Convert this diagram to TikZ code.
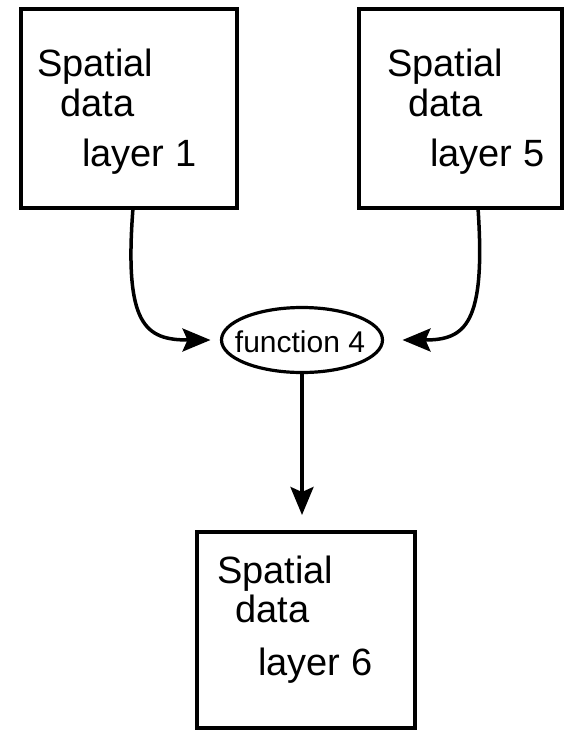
\documentclass[tikz,border=0pt]{standalone}
\usepackage{fontspec}
\setmainfont{Liberation Sans}
\usetikzlibrary{arrows.meta,shapes.geometric}
\begin{document}
\begin{tikzpicture}[x=1pt,y=1pt,
  box/.style={draw, line width=4pt, rectangle, inner sep=0pt, outer sep=0pt},
  lbl/.style={anchor=base west, inner sep=0pt, font=\fontsize{38}{40}\selectfont},
  conn/.style={line width=3.5pt, -{Stealth[length=28pt,width=23pt,inset=5pt]}}
]
\useasboundingbox (0,0) rectangle (565,-731);
\node[box, minimum width=216, minimum height=199] (b1) at (129,-108.5) {};
\node[box, minimum width=203, minimum height=199] (b2) at (460.5,-108.5) {};
\node[box, minimum width=218, minimum height=196] (b3) at (306,-630) {};
\node[draw, ellipse, line width=3.2pt, inner sep=0pt, outer sep=0pt, minimum width=161, minimum height=65] (f) at (302,-340) {};
\node[anchor=base, inner sep=0pt, font=\fontsize{30}{32}\selectfont] (ft) at (300,-352) {function 4};
\node[lbl] (t1a) at (37,-76) {Spatial};
\node[lbl] (t1b) at (60,-116) {data};
\node[lbl] (t1c) at (82,-166) {layer 1};
\node[lbl] (t2a) at (387,-76) {Spatial};
\node[lbl] (t2b) at (408,-116) {data};
\node[lbl] (t2c) at (430,-166) {layer 5};
\node[lbl] (t3a) at (217,-583) {Spatial};
\node[lbl] (t3b) at (235,-622) {data};
\node[lbl] (t3c) at (258,-675) {layer 6};
\draw[conn] ([xshift=4pt]b1.south) .. controls (124,-325) and (145,-340) .. ([xshift=-11pt]f.west);
\draw[conn] ([xshift=17.5pt]b2.south) .. controls (486,-325) and (465,-340) .. ([xshift=20pt]f.east);
\draw[conn] (f.south) -- ([yshift=17pt]f.south |- b3.north);
\end{tikzpicture}
\end{document}
